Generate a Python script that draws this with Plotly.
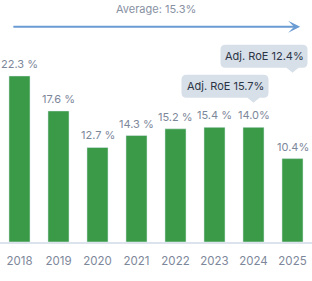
import plotly.graph_objects as go

years = ["2018", "2019", "2020", "2021", "2022", "2023", "2024", "2025"]
roe_values = [22.3, 17.6, 12.7, 14.3, 15.2, 15.4, 15.4, 11.2]
roe_labels = ["22.3 %", "17.6 %", "12.7 %", "14.3 %", "15.2 %", "15.4 %", "14.0%", "10.4%"]
average_value = 15.3
callout_years = ["2024", "2025"]
callout_texts = ["Adj. RoE 15.7%", "Adj. RoE 12.4%"]
callout_tip_y = [0.575, 0.699]  # fraction of plot height

FONT = "Inter"
BAR = "#3b9a47"
LABEL = "#7d879a"
BOX = "#d7dfe9"

fig = go.Figure()
fig.add_trace(go.Bar(
    x=years, y=roe_values, marker_color=BAR, width=0.54,
    hoverinfo="skip", showlegend=False,
))

annotations = []
for i, (v, lab) in enumerate(zip(roe_values, roe_labels)):
    annotations.append(dict(
        x=i, y=v, xref="x", yref="y", text=lab, showarrow=False,
        yanchor="middle", yshift=12,
        font=dict(family=FONT, size=11, color=LABEL),
    ))

# average arrow
annotations.append(dict(
    x=0.962, y=0.889, ax=0.038, ay=0.889,
    xref="x domain", yref="y domain", axref="x domain", ayref="y domain",
    text="", showarrow=True, arrowhead=3, arrowsize=1, arrowwidth=2,
    arrowcolor="#6a9bd3",
))
annotations.append(dict(
    x=0.5, y=0.963, xref="paper", yref="y domain",
    text=f"Average: {average_value}%", showarrow=False,
    yanchor="middle", font=dict(family=FONT, size=11, color="#8791a2"),
))

shapes = []
for yr, txt, ty in zip(callout_years, callout_texts, callout_tip_y):
    xi = years.index(yr)
    L, R, B, T, r = -72, 15, 5, 28, 5
    path = (f"M0,0 L-6,{B} L{L + r},{B} Q{L},{B} {L},{B + r} "
            f"L{L},{T - r} Q{L},{T} {L + r},{T} L{R - r},{T} Q{R},{T} {R},{T - r} "
            f"L{R},{B + r} Q{R},{B} {R - r},{B} L6,{B} Z")
    shapes.append(dict(
        type="path", xref="x", yref="y domain", xsizemode="pixel", ysizemode="pixel",
        xanchor=xi, yanchor=ty, path=path, fillcolor=BOX, line=dict(width=0),
        layer="above",
    ))
    annotations.append(dict(
        x=xi, y=ty, xref="x", yref="y domain", text=txt, showarrow=False,
        xshift=(L + R) / 2, yshift=(B + T) / 2, yanchor="middle", xanchor="center",
        font=dict(family=FONT, size=11, color="#2c3545"),
    ))

fig.update_layout(
    width=312, height=281, margin=dict(l=0, r=0, t=0, b=38.5),
    plot_bgcolor="white", paper_bgcolor="white",
    annotations=annotations, shapes=shapes, bargap=0.46,
    xaxis=dict(type="category", range=[-0.5, 7.5], showgrid=False, zeroline=False,
               showline=True, linecolor="#dde3ec", linewidth=1.5,
               ticks="", ticklabelstandoff=7,
               tickfont=dict(family=FONT, size=11.5, color=LABEL), fixedrange=True),
    yaxis=dict(range=[0, 32.5], visible=False, fixedrange=True),
)

fig.write_html("out.html", config={"displayModeBar": False})
